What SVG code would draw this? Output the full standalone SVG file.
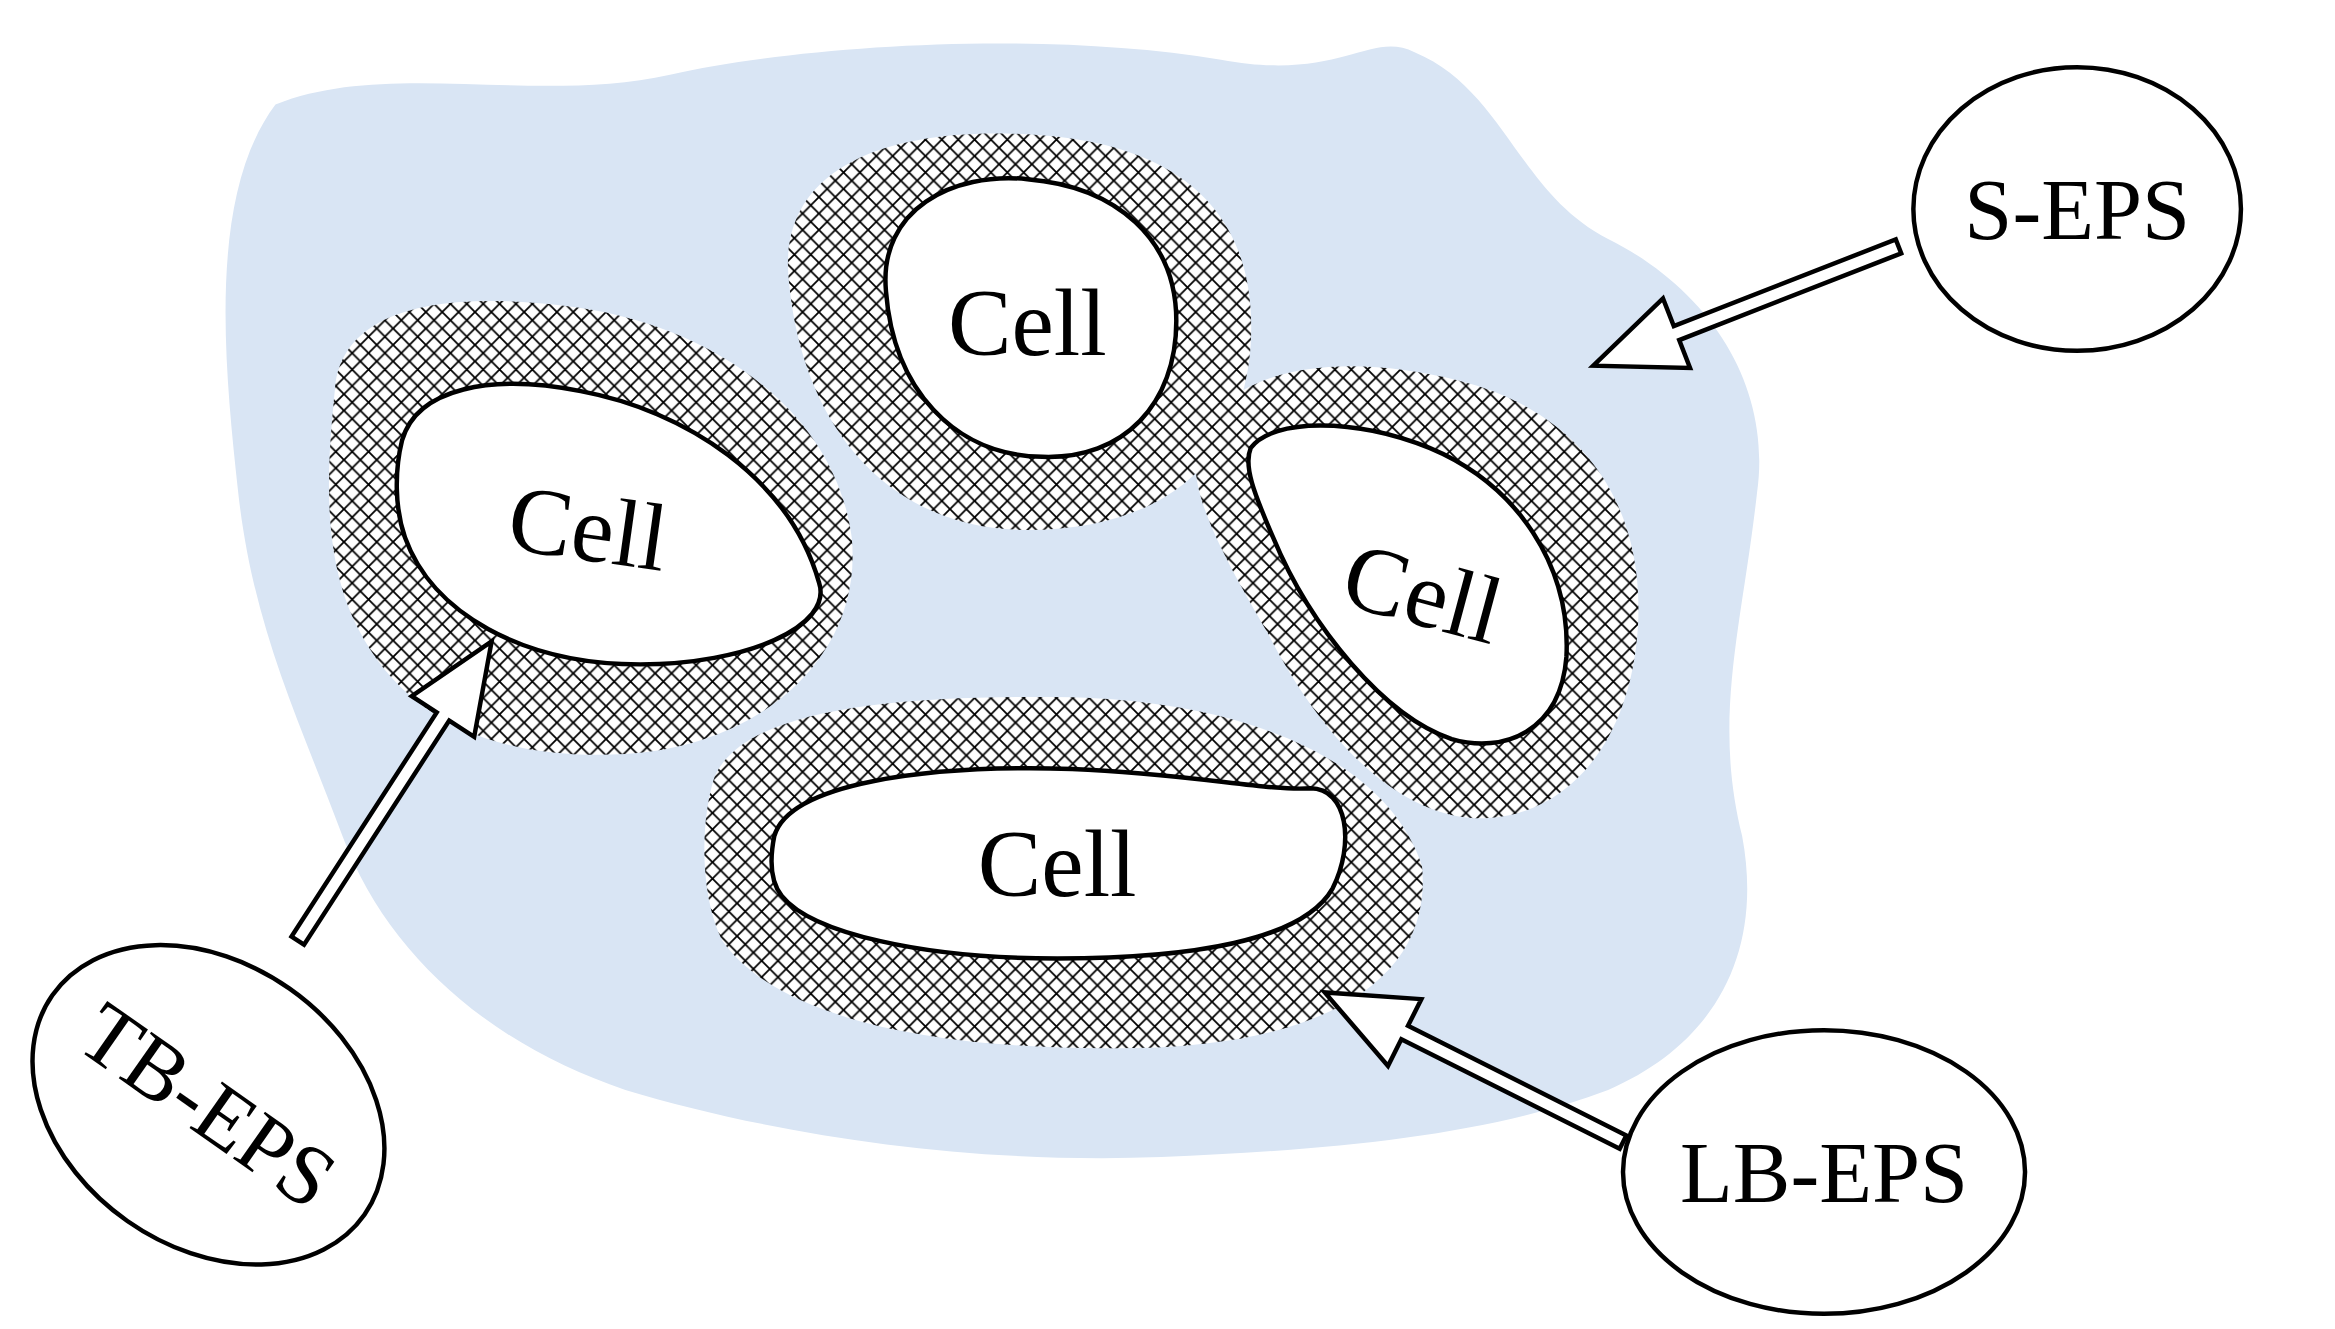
<svg xmlns="http://www.w3.org/2000/svg" width="2335" height="1329" viewBox="0 0 2335 1329">
<defs>
<pattern id="hatch" width="11" height="11" patternUnits="userSpaceOnUse">
<rect width="11" height="11" fill="#fff"/>
<path d="M0 0L11 11M11 0L0 11" stroke="#000" stroke-width="1.2"/>
</pattern>
<style>
.cell{fill:#fff;stroke:#000;stroke-width:3}
.hat{fill:url(#hatch);stroke:none}
.lbl{font-family:"Liberation Serif",serif;font-size:58px;fill:#000;text-anchor:middle}
.cl{font-size:64px}
.oval{fill:#fff;stroke:#000;stroke-width:3}
.arr{fill:#fff;stroke:#000;stroke-width:3;stroke-linejoin:miter}
</style>
</defs>
<rect width="2335" height="1329" fill="#fff"/>
<g transform="scale(1.489,1.493)">
<g id="matrix">
<path d="M185 70 C260 40 360 70 450 50 C540 30 700 20 820 40 C900 55 920 20 950 35 C1010 60 1020 130 1080 160 C1150 195 1190 260 1180 330 C1170 420 1150 480 1170 560 C1185 640 1150 700 1080 730 C1000 760 900 770 780 775 C650 780 520 760 420 730 C330 700 260 640 230 560 C200 480 170 420 160 330 C150 240 140 130 185 70 Z" fill="#d9e5f4"/>
</g>
<g id="cell-top">
<path class="hat" d="M530 190 C520 110 600 85 690 90 C790 95 845 140 840 230 C835 310 780 355 690 355 C600 355 540 290 530 190Z"/>
<path class="cell" d="M595 195 C590 140 640 115 690 120 C750 125 790 160 790 215 C790 270 755 308 700 306 C640 305 600 260 595 195Z"/>
<text class="lbl cl" x="690" y="238">Cell</text>
</g>
<g id="cell-left">
<path class="hat" d="M225 260 C230 205 300 195 380 205 C470 215 560 270 572 360 C580 440 510 500 420 505 C330 510 270 480 240 420 C215 370 220 310 225 260Z"/>
<path class="cell" d="M270 295 C280 260 330 250 390 262 C460 275 530 320 550 390 C560 420 500 445 430 445 C350 445 290 410 272 360 C265 340 265 315 270 295Z"/>
<text class="lbl cl" x="392" y="375" transform="rotate(8 392 375)">Cell</text>
</g>
<g id="cell-right">
<path class="hat" d="M805 295 C825 245 900 235 980 255 C1060 275 1105 335 1100 420 C1095 500 1050 550 990 548 C935 545 885 490 852 425 C820 370 795 325 805 295Z"/>
<path class="cell" d="M840 300 C855 280 910 280 960 300 C1020 325 1055 380 1052 440 C1048 490 1010 505 975 495 C930 480 880 420 855 360 C842 330 835 312 840 300Z"/>
<text class="lbl cl" x="950" y="418" transform="rotate(15 950 418)">Cell</text>
</g>
<g id="cell-bottom">
<path class="hat" d="M480 520 C500 475 600 465 720 467 C830 470 930 505 955 580 C962 650 900 700 760 702 C620 704 520 680 485 630 C470 600 470 550 480 520Z"/>
<path class="cell" d="M520 560 C530 525 620 512 720 515 C800 518 850 530 880 528 C905 528 910 565 895 595 C875 630 800 642 710 642 C620 642 545 625 525 600 C517 590 517 575 520 560Z"/>
<text class="lbl cl" x="710" y="600">Cell</text>
</g>
<g id="s-eps">
<ellipse class="oval" cx="1395" cy="140" rx="110" ry="95"/>
<text class="lbl" x="1395" y="160">S-EPS</text>
</g>
<g id="tb-eps">
<ellipse class="oval" cx="140" cy="740" rx="128" ry="95" transform="rotate(35 140 740)"/>
<text class="lbl" x="140" y="760" transform="rotate(35 140 740)">TB-EPS</text>
</g>
<g id="lb-eps">
<ellipse class="oval" cx="1225" cy="785" rx="135" ry="95"/>
<text class="lbl" x="1225" y="805">LB-EPS</text>
</g>
<g id="connectors">
<polygon class="arr" transform="translate(1275 165) rotate(158.7)" points="0,-5 160,-5 160,-25 220,0 160,25 160,5 0,5"/>
<polygon class="arr" transform="translate(200 630) rotate(-57)" points="0,-5 179,-5 179,-25 239,0 179,25 179,5 0,5"/>
<polygon class="arr" transform="translate(1090 765) rotate(-153.4)" points="0,-5 164,-5 164,-25 224,0 164,25 164,5 0,5"/>
</g>
</g>
</svg>
